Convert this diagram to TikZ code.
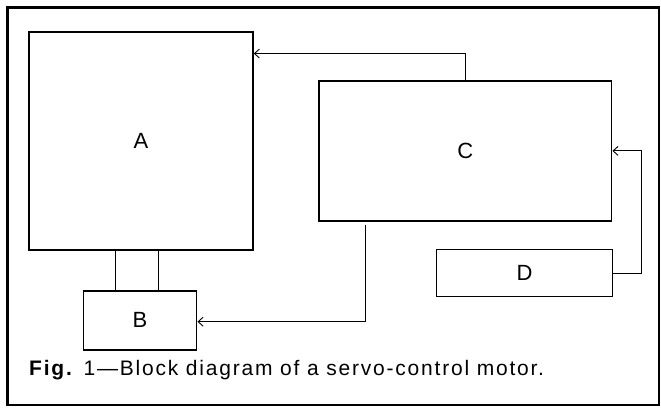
\documentclass[tikz,border=0pt]{standalone}
\usepackage{fontspec}
\setmainfont{Liberation Sans}
\newfontfamily\capfont{Liberation Sans}[LetterSpace=8.5]
\usetikzlibrary{arrows.meta}

\begin{document}
\begin{tikzpicture}[x=1pt, y=-1pt,
	every node/.style={font=\fontsize{22}{26}\selectfont},
	block/.style={draw, line width=1.5pt, inner sep=0pt},
	link/.style={line width=0.9pt},
	signal/.style={line width=0.9pt, -{Straight Barb[length=5pt,width=9pt]}}]
	\useasboundingbox (0,0) rectangle (661,407);
	\draw[line width=2.6pt] (7.3,7.5) rectangle (659,405);
	% blocks
	\node[block, minimum width=224pt, minimum height=218pt] (A) at (141,141) {A};
	\node[block, minimum width=113.4pt, minimum height=59.3pt] (B) at (140,320.4) {B};
	\node[block, minimum width=292.7pt, minimum height=139.7pt] (C) at (465.3,150.9) {C};
	\node[block, minimum width=175.6pt, minimum height=47.4pt] (D) at (524.5,273) {D};
	% connections
	\foreach \x [count=\i] in {115,158.7} {
		\coordinate (l\i) at (\x,0);
		\draw[link] (A.south -| l\i) -- (B.north -| l\i);
	}
	\draw[signal] (C.north) |- ([yshift=-22.3pt]A.north east);
	\draw[signal] ([xshift=47.7pt,yshift=-3.3pt]C.south west) |- ([yshift=-1.3pt]B.east);
	\draw[signal] (D.east) -- ++(28.4,0) |- (C.east);
	\node[anchor=base west, inner sep=0pt, font=\capfont\fontsize{21}{25}\selectfont] (caption) at (29,375.5)
		{\textbf{Fig.}\hspace{10pt}1\textemdash Block diagram of a servo-control motor.};
\end{tikzpicture}
\end{document}
